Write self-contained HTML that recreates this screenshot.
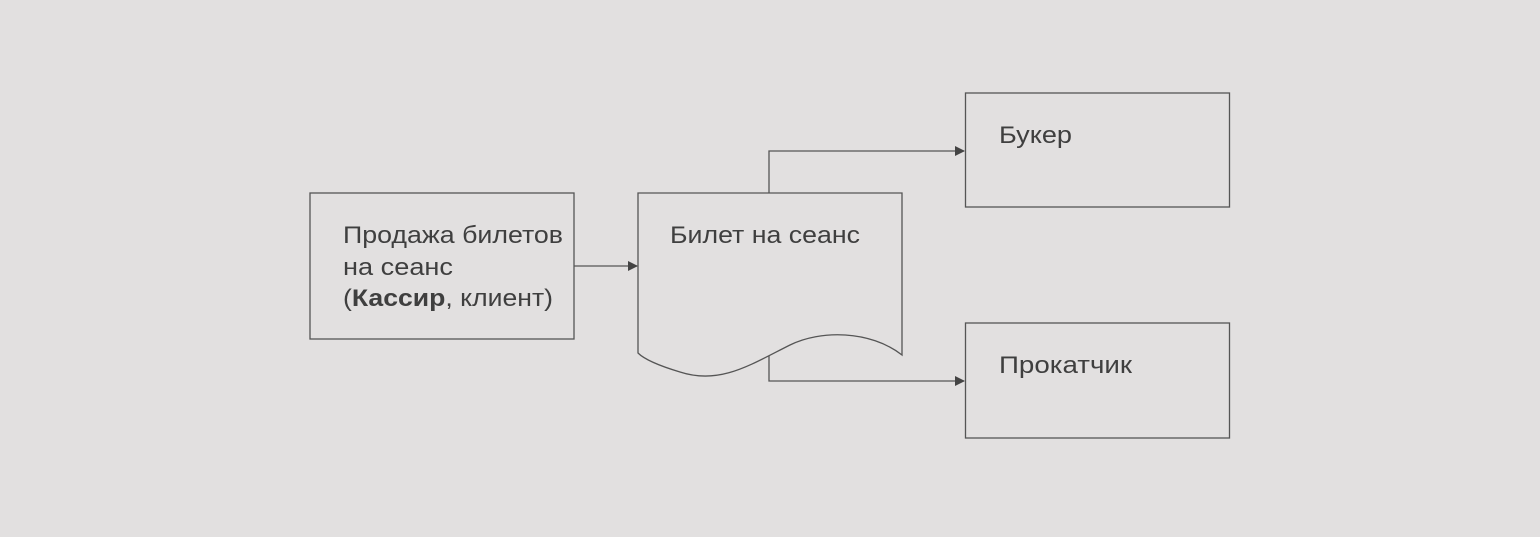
<!DOCTYPE html>
<html><head><meta charset="utf-8"><style>
html,body{margin:0;padding:0;background:#e2e0e0;}
svg text{font-family:"Liberation Sans",sans-serif;font-size:24px;fill:#3f3f3f;}
</style></head><body>
<svg width="1540" height="532" viewBox="0 0 1540 532" xmlns="http://www.w3.org/2000/svg">
<defs><marker id="a" markerWidth="10" markerHeight="10" refX="9" refY="5" orient="auto" markerUnits="userSpaceOnUse"><path d="M0,0 L10,5 L0,10 z" fill="#444"/></marker></defs>
<g fill="none" stroke="#555" stroke-width="1.3">
<rect x="310" y="193" width="264" height="146"/>
<rect x="965.5" y="93" width="264" height="114"/>
<rect x="965.5" y="323" width="264" height="115"/>
<path d="M638,193 L902,193 L902,355 C870,330 820,330 790,345 C750,365 720,385 680,372 C660,366 645,360 638,353 Z"/>
<path d="M574,266 L637,266" marker-end="url(#a)"/>
<path d="M769,193 L769,151 L964,151" marker-end="url(#a)"/>
<path d="M769,356 L769,381 L964,381" marker-end="url(#a)"/>
</g>
<text x="343" y="243" textLength="220" lengthAdjust="spacingAndGlyphs">Продажа билетов</text>
<text x="343" y="275" textLength="110" lengthAdjust="spacingAndGlyphs">на сеанс</text>
<text x="343" y="306" textLength="210" lengthAdjust="spacingAndGlyphs">(<tspan font-weight="bold">Кассир</tspan>, клиент)</text>
<text x="670" y="243" textLength="190" lengthAdjust="spacingAndGlyphs">Билет на сеанс</text>
<text x="999" y="143" textLength="73" lengthAdjust="spacingAndGlyphs">Букер</text>
<text x="999" y="373" textLength="133" lengthAdjust="spacingAndGlyphs">Прокатчик</text>
</svg>
</body></html>
